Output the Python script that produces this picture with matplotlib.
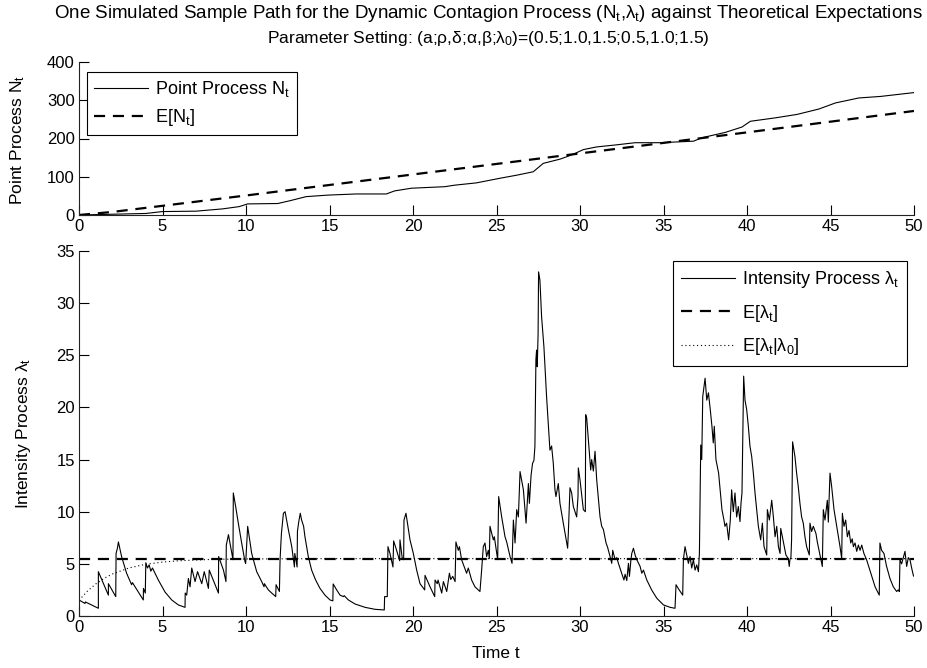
import matplotlib
matplotlib.use("Agg")
import matplotlib.pyplot as plt

plt.rcParams['font.family'] = ['Liberation Sans', 'DejaVu Sans']
plt.rcParams['mathtext.fontset'] = 'custom'
plt.rcParams['mathtext.rm'] = 'Liberation Sans'
plt.rcParams['mathtext.it'] = 'Liberation Sans'
plt.rcParams['mathtext.sf'] = 'Liberation Sans'

# ---------------- data ----------------
# Point process N_t (sampled vertices)
n_t = [0, 2, 4, 5, 7, 8.6, 9.6, 10.1, 11.9, 12.6, 13.6, 14.9, 16.6, 18.4, 18.9, 19.9,
       21.9, 22.5, 23.8, 25.2, 26.2, 27.2, 27.8, 28.8, 29.5, 30.2, 31, 32.1, 33.3,
       34.8, 36.8, 37.3, 38.7, 39.7, 40.2, 41.7, 43, 44.3, 45.3, 46.7, 48, 50]
n_v = [0, 2, 4, 9, 10, 16, 22, 29, 30, 37, 48, 52, 55, 55, 63, 70,
       74, 78, 84, 96, 104, 113, 135, 146, 157, 171, 178, 183, 189,
       189, 193, 202, 216, 230, 245, 254, 263, 277, 293, 306, 310, 320]

# Expected point process E[N_t]
en_t = [0, 2, 5, 10, 20, 30, 40, 50]
en_v = [0, 8, 24, 51, 106, 161, 216, 272]

# Intensity process lambda_t (vertices, jumps appear as repeated times)
lam_t = [0, 0.36, 0.38, 1.16, 1.16, 1.76, 1.76, 2.2, 2.22, 2.3, 2.36, 2.55, 2.85, 3.15, 3.2,
         3.55, 3.85, 3.86, 3.97, 4.0, 4.1, 4.2, 4.3, 4.4, 4.75, 5.15, 5.55, 5.95, 6.35, 6.36,
         6.45, 6.55, 6.65, 6.75, 6.95, 7.1, 7.35, 7.5, 7.75, 7.8, 8.35, 8.36, 8.65, 8.8, 8.82,
         8.95, 9.15, 9.22, 9.24,
         9.38, 9.54, 9.74, 9.94, 9.98, 10.1, 10.34, 10.64, 10.94, 11.08, 11.1, 11.34, 11.54,
         11.78, 11.8, 12.0, 12.04, 12.12, 12.24, 12.34, 12.54, 12.74, 12.84, 12.9, 12.92, 12.98,
         13.06, 13.08, 13.16, 13.25, 13.33, 13.45, 13.53, 13.73, 13.93, 14.17, 14.43, 14.73,
         15.03, 15.2, 15.22, 15.43, 15.63, 15.83, 15.88, 16.13, 16.53, 17.13, 17.73, 18.28,
         18.3, 18.46, 18.5, 18.62, 18.8, 18.84, 19.0, 19.2, 19.22, 19.35, 19.44, 19.46, 19.58,
         19.82, 20.02, 20.22, 20.42, 20.7, 20.72, 21.02, 21.3, 21.32, 21.45, 21.5, 21.72, 21.82,
         22.02, 22.18, 22.26, 22.38, 22.52, 22.57, 22.71, 22.78, 22.91, 23.21, 23.31, 23.51,
         23.71, 24.01, 24.11, 24.21, 24.31, 24.41, 24.51, 24.57, 24.61, 24.81, 24.87, 25.07,
         25.13, 25.31, 25.51, 25.61, 25.81, 25.93, 26.01, 26.11, 26.21, 26.31, 26.41, 26.61,
         26.77, 26.91, 26.97, 27.07, 27.16, 27.24, 27.3, 27.36, 27.4, 27.44, 27.49, 27.52, 27.6,
         27.7, 27.84, 28.0, 28.2, 28.3, 28.4, 28.5, 28.56, 28.7, 28.8, 29.0, 29.26, 29.3, 29.4,
         29.5, 29.6, 29.7, 29.8, 29.88, 29.9, 30.0, 30.2, 30.32, 30.34, 30.4, 30.5, 30.64, 30.7,
         30.8, 30.9, 31.0, 31.2, 31.3, 31.4, 31.56, 31.65, 31.8, 31.9, 31.96, 32.1, 32.2, 32.3,
         32.5, 32.63, 32.7, 32.8, 32.9, 32.96, 33.05, 33.1, 33.2, 33.3, 33.4, 33.6, 33.7, 33.8,
         34.0, 34.29, 34.6, 35.0, 35.4, 35.69, 35.75, 35.9, 36.15, 36.19, 36.29, 36.39, 36.49,
         36.59, 36.69, 36.79, 36.89, 36.99, 37.09, 37.15, 37.23, 37.29, 37.35, 37.49, 37.59,
         37.69, 37.8, 37.9, 37.98, 38.04, 38.14, 38.3, 38.5, 38.62, 38.68, 38.78, 38.9, 39.0,
         39.08, 39.18, 39.28, 39.38, 39.48, 39.58, 39.64, 39.7, 39.74, 39.8,
         39.88, 39.98, 40.08, 40.18, 40.28, 40.38, 40.48, 40.58, 40.68, 40.82, 40.92, 41.02,
         41.18, 41.22, 41.34, 41.48, 41.58, 41.68, 41.78, 41.88, 41.98, 42.02, 42.18, 42.33,
         42.47, 42.53, 42.57, 42.63, 42.67, 42.73, 42.87, 42.97, 43.07, 43.17, 43.27, 43.37,
         43.47, 43.57, 43.73, 43.77, 43.87, 43.97, 44.13, 44.21, 44.31, 44.41, 44.51, 44.57,
         44.67, 44.81, 44.87, 44.97, 45.07, 45.21, 45.37, 45.57, 45.67, 45.71, 45.81, 45.91,
         46.01, 46.11, 46.21, 46.3, 46.37, 46.47, 46.57, 46.67, 46.77, 46.87, 47.0, 47.16,
         47.47, 47.67, 47.92, 47.96, 48.06, 48.2, 48.36, 48.56, 48.76, 48.96, 49.06, 49.12,
         49.16, 49.26, 49.36, 49.46, 49.56, 49.66, 49.76, 49.86, 49.96, 50.0]
lam_v = [1.54, 1.2, 1.35, 0.74, 4.25, 2.0, 3.1, 1.86, 6.0, 6.5, 7.1, 5.7, 4.1, 3.0, 3.2,
         2.3, 1.54, 2.65, 2.2, 5.1, 4.6, 4.9, 4.3, 4.6, 3.45, 2.3, 1.54, 1.06, 0.83, 2.2,
         2.0, 3.6, 2.8, 4.6, 3.3, 4.25, 3.1, 4.25, 2.65, 4.4, 2.2, 5.7, 4.4, 3.3, 6.8,
         7.8, 6.0, 5.4, 11.8,
         10.5, 8.9, 7.0, 5.2, 5.05, 8.6, 6.0, 4.25, 3.3, 2.8, 3.1, 2.5, 2.2,
         1.86, 3.0, 2.35, 5.4, 7.9, 9.85, 10.0, 8.25, 6.65, 5.4, 4.7, 6.0, 5.5,
         4.7, 8.1, 9.05, 9.85, 9.2, 8.6, 7.6, 5.7, 4.4, 3.45, 2.65, 2.0,
         1.54, 1.45, 3.07, 2.5, 2.0, 1.86, 1.95, 1.54, 1.15, 0.83, 0.64, 0.58,
         1.86, 1.86, 6.65, 6.0, 4.7, 7.2, 6.4, 5.3, 7.3, 5.6, 5.4, 9.2, 9.85,
         7.3, 6.0, 4.4, 3.1, 2.5, 3.9, 2.8, 1.86, 3.45, 3.1, 3.45, 2.2, 3.3,
         2.35, 4.1, 3.5, 3.8, 3.3, 7.1, 6.3, 6.65, 5.4, 4.1, 4.6, 3.45,
         2.8, 2.35, 4.4, 6.65, 7.0, 5.7, 6.3, 5.5, 8.6, 7.3, 7.6, 5.4,
         11.45, 9.5, 7.6, 7.1, 5.7, 5.05, 9.2, 7.0, 10.2, 9.5, 13.85, 12.1,
         8.9, 12.7, 10.8, 13.5, 14.65, 14.9, 16.25, 24.6, 25.5, 23.9, 27.0, 33.0, 32.2,
         28.7, 25.8, 21.0, 15.9, 16.3, 14.65, 12.1, 11.45, 12.7, 10.8, 8.9, 6.5, 7.9, 12.3,
         11.8, 10.5, 10.0, 9.5, 11.45, 14.2, 13.05, 10.2, 10.0, 19.3, 19.0, 16.9, 14.0, 15.0,
         13.9, 15.8, 13.05, 9.5, 8.6, 8.3, 7.0, 6.6, 5.7, 5.05, 6.3, 5.4, 5.6, 5.05,
         4.1, 3.45, 4.0, 3.4, 5.05, 3.8, 5.4, 6.0, 6.5, 5.85, 5.4, 4.75, 4.1, 4.4,
         3.45, 2.5, 1.7, 1.06, 0.83, 0.74, 3.0, 2.6, 2.0, 5.4, 6.65, 5.85, 5.05,
         5.7, 4.6, 5.4, 4.4, 4.9, 4.25, 6.0, 16.4, 15.0, 21.05, 22.8, 20.7,
         21.4, 19.8, 18.2, 16.6, 18.2, 15.0, 13.7, 10.2, 9.2, 8.6, 8.9, 7.3, 9.2,
         12.1, 10.0, 11.8, 9.5, 10.5, 9.05, 10.8, 11.8, 16.25, 23.0,
         20.7, 19.8, 18.2, 16.25, 15.3, 13.7, 11.8, 10.2, 8.6, 7.3, 8.9, 6.65,
         5.85, 10.2, 9.2, 11.1, 9.5, 7.6, 8.6, 6.65, 6.0, 8.4, 7.1, 5.85,
         5.5, 4.75, 5.4, 5.6, 7.3, 16.7, 15.3, 13.7, 12.4, 10.8, 9.5, 8.9,
         7.6, 6.65, 5.85, 8.9, 8.1, 8.6, 7.9, 7.1, 6.3, 5.5, 4.75, 10.2,
         9.2, 11.1, 9.0, 13.7, 12.4, 10.2, 8.6, 6.65, 5.5, 9.85, 8.6, 9.2,
         7.6, 8.2, 7.0, 7.4, 6.65, 7.0, 6.2, 6.8, 6.3, 6.8, 6.0, 5.4,
         3.8, 2.8, 2.0, 7.0, 6.3, 6.0, 4.75, 3.6, 2.8, 2.35, 2.5, 2.35,
         5.4, 5.0, 5.6, 6.2, 4.75, 5.6, 5.4, 4.6, 3.9, 3.8]

# Stationary expectation E[lambda_t]
elam_t = [0, 50]
elam_v = [5.5, 5.5]

# Conditional expectation E[lambda_t | lambda_0]
ecl_t = [0, 0.5, 1, 1.5, 2, 3, 4, 5, 6, 8, 10, 15, 50]
ecl_v = [1.5, 2.38, 3.07, 3.61, 4.03, 4.61, 4.96, 5.17, 5.30, 5.43, 5.47, 5.5, 5.5]

x_ticks = [0, 5, 10, 15, 20, 25, 30, 35, 40, 45, 50]
n_ticks = [0, 100, 200, 300, 400]
lam_ticks = [0, 5, 10, 15, 20, 25, 30, 35]

# ---------------- figure ----------------
W, H = 928, 668
fig = plt.figure(figsize=(W / 100, H / 100), dpi=100)
fig.patch.set_facecolor('white')

L, R = 79, 914
ax1 = fig.add_axes([L / W, (H - 215) / H, (R - L) / W, (215 - 62) / H])
ax2 = fig.add_axes([L / W, (H - 616) / H, (R - L) / W, (616 - 251) / H])

TICK_FS = 12
LEG_FS = 13
TITLE_FS = 13.5
TITLE2_FS = 12.5
LAB_FS = 12.5

for ax in (ax1, ax2):
    for s in ('top', 'right'):
        ax.spines[s].set_visible(False)
    for s in ('left', 'bottom'):
        ax.spines[s].set_linewidth(0.8)
        ax.spines[s].set_color('#222222')
    ax.tick_params(direction='in', length=7, width=0.8, labelsize=TICK_FS, pad=3, colors='black')
    ax.set_xlim(0, 50)
    ax.set_xticks(x_ticks)

# upper panel
ax1.plot(n_t, n_v, color='black', lw=0.8, label=r'Point Process $\mathregular{N_t}$')
ax1.plot(en_t, en_v, color='black', lw=1.6, linestyle=(0, (5, 3.5)), label=r'E[$\mathregular{N_t}$]')
ax1.set_ylim(0, 400)
ax1.set_yticks(n_ticks)
leg1 = ax1.legend(loc='upper left', bbox_to_anchor=(87 / W, 1 - 72 / H), bbox_transform=fig.transFigure,
                  fontsize=LEG_FS, frameon=True, fancybox=False, framealpha=1, edgecolor='black',
                  borderaxespad=0, handlelength=3.0, labelspacing=0.45, handletextpad=0.4,
                  borderpad=0.38)
leg1.get_frame().set_linewidth(0.8)

# lower panel
ax2.plot(lam_t, lam_v, color='black', lw=0.8, label=r'Intensity Process $\mathregular{\lambda_t}$')
ax2.plot(elam_t, elam_v, color='black', lw=1.6, linestyle=(0, (5, 3.5)), label=r'E[$\mathregular{\lambda_t}$]')
ax2.plot(ecl_t, ecl_v, color='black', lw=0.8, linestyle=(0, (1, 2.5)),
         label=r'E[$\mathregular{\lambda_t}$|$\mathregular{\lambda_0}$]')
ax2.set_ylim(0, 35)
ax2.set_yticks(lam_ticks)
leg2 = ax2.legend(loc='upper right', bbox_to_anchor=(907 / W, 1 - 261 / H), bbox_transform=fig.transFigure,
                  fontsize=LEG_FS, frameon=True, fancybox=False, framealpha=1, edgecolor='black',
                  borderaxespad=0, handlelength=3.0, labelspacing=0.7, handletextpad=0.4,
                  borderpad=0.45)
leg2.get_frame().set_linewidth(0.8)

# titles and labels
cx = 488 / W
fig.text(cx, 1 - 13 / H,
         r'One Simulated Sample Path for the Dynamic Contagion Process ($\mathregular{N_t}$,$\mathregular{\lambda_t}$) against Theoretical Expectations',
         ha='center', va='center', fontsize=TITLE_FS)
fig.text(cx, 1 - 38 / H,
         r'Parameter Setting: (a;ρ,δ;α,β;$\mathregular{\lambda_0}$)=(0.5;1.0,1.5;0.5,1.0;1.5)',
         ha='center', va='center', fontsize=TITLE2_FS)
fig.text(18 / W, 1 - 140 / H, r'Point Process $\mathregular{N_t}$', rotation=90,
         ha='center', va='center', fontsize=LAB_FS)
fig.text(24 / W, 1 - 433 / H, r'Intensity Process $\mathregular{\lambda_t}$', rotation=90,
         ha='center', va='center', fontsize=LAB_FS)
fig.text(496 / W, 1 - 654 / H, 'Time t', ha='center', va='center', fontsize=LAB_FS)

fig.savefig('out.png', dpi=100, facecolor='white')
